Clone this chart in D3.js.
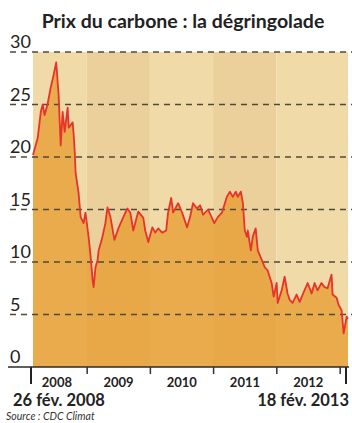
<!DOCTYPE html>
<html><head><meta charset="utf-8">
<script src="https://cdn.jsdelivr.net/npm/d3@7"></script>
<style>html,body{margin:0;padding:0;background:#fff;} svg{display:block;}</style>
</head><body>
<script>
const dates = ["2008-02-26","2008-03-24","2008-04-11","2008-04-22","2008-05-03","2008-05-21","2008-06-07","2008-06-24","2008-07-09","2008-07-23","2008-08-04","2008-08-15","2008-08-27","2008-09-13","2008-09-19","2008-10-12","2008-10-18","2008-10-24","2008-10-29","2008-11-15","2008-11-27","2008-12-14","2008-12-25","2009-01-12","2009-01-24","2009-02-04","2009-02-10","2009-02-21","2009-03-05","2009-03-11","2009-04-02","2009-04-19","2009-05-01","2009-05-18","2009-06-10","2009-07-03","2009-08-01","2009-08-24","2009-09-10","2009-09-27","2009-10-26","2009-11-24","2009-12-05","2009-12-23","2010-01-15","2010-02-01","2010-02-18","2010-03-13","2010-04-05","2010-04-16","2010-05-04","2010-05-15","2010-06-13","2010-07-06","2010-08-04","2010-08-21","2010-09-07","2010-09-30","2010-10-18","2010-11-04","2010-12-03","2011-01-08","2011-01-29","2011-02-21","2011-03-21","2011-04-08","2011-04-25","2011-05-12","2011-05-24","2011-06-10","2011-06-22","2011-07-03","2011-07-15","2011-07-20","2011-08-07","2011-08-18","2011-09-04","2011-09-16","2011-10-09","2011-10-26","2011-11-12","2011-12-05","2011-12-17","2012-01-03","2012-01-09","2012-02-01","2012-02-18","2012-03-06","2012-03-18","2012-04-04","2012-04-27","2012-05-15","2012-06-01","2012-06-30","2012-07-23","2012-08-09","2012-08-26","2012-09-18","2012-10-06","2012-10-23","2012-11-15","2012-11-21","2012-12-14","2012-12-26","2013-01-12","2013-01-24","2013-02-10","2013-02-18"];
const prices = [20.2,21.8,24.3,25.0,24.0,25.1,26.6,27.8,29.0,25.9,21.1,24.3,22.4,24.7,22.8,23.3,22.1,20.5,18.5,16.6,14.3,13.7,14.7,12.4,10.5,8.3,7.6,9.5,10.2,11.1,12.4,13.7,15.2,14.3,12.1,13.2,14.3,15.1,14.7,13.0,14.8,14.2,13.0,11.9,13.3,12.8,13.2,12.8,13.0,14.7,16.1,14.7,15.6,14.7,13.3,14.3,15.6,15.1,15.4,14.5,15.0,13.7,14.3,14.7,16.2,16.7,16.2,16.7,16.2,16.7,15.6,13.0,12.4,13.0,11.1,12.4,13.2,11.1,10.2,9.5,9.2,8.0,6.7,8.0,6.1,7.3,8.6,7.0,6.4,6.1,6.9,6.2,6.9,8.0,7.0,8.0,7.3,8.0,7.6,7.5,8.8,6.9,6.6,5.9,5.4,3.2,4.8,4.6];
const yTicks = [0,5,10,15,20,25,30];
const yearTicks = ["2009-01-01","2010-01-01","2011-01-01","2012-01-01","2013-01-01"];
const yearLabels = ["2008","2009","2010","2011","2012"];
const yearLabelDates = ["2008-07-10","2009-07-01","2010-07-01","2011-07-01","2012-07-01"];
const bandStarts = ["2008-02-26","2009-01-01","2010-01-01","2011-01-01","2012-01-01"];
const bandEnds = ["2009-01-01","2010-01-01","2011-01-01","2012-01-01","2013-02-18"];
const title = "Prix du carbone : la dégringolade";
const startLabel = "26 fév. 2008";
const endLabel = "18 fév. 2013";
const source = "Source : CDC Climat";

const parse = d3.timeParse("%Y-%m-%d");
const data = dates.map((d,i)=>({date: parse(d), v: prices[i]}));
const W = 352, H = 423;
const x = d3.scaleTime().domain([parse("2008-02-26"), parse("2013-02-18")]).range([33, 348]);
const y = d3.scaleLinear().domain([0,30]).range([367, 52]);

const svg = d3.select("body").append("svg").attr("width", W).attr("height", H);
const font = "Lato, 'Open Sans', sans-serif";

// background bands
svg.selectAll("rect.band").data(bandStarts).enter().append("rect")
  .attr("x", (d)=>x(parse(d)))
  .attr("width", (d,i)=>x(parse(bandEnds[i])) - x(parse(d)))
  .attr("y", y(30)).attr("height", y(0)-y(30))
  .attr("fill", (d,i)=> i%2 ? "#ecd09c" : "#efdaa8");

// area
svg.append("path").datum(data)
  .attr("d", d3.area().x(d=>x(d.date)).y0(y(0)).y1(d=>y(d.v)))
  .attr("fill", "#e6951f").attr("fill-opacity", 0.68);

// dashed grid lines
svg.selectAll("line.grid").data(yTicks.filter(t=>t>0)).enter().append("line")
  .attr("x1", 10).attr("x2", 352)
  .attr("y1", d=>y(d)).attr("y2", d=>y(d))
  .attr("stroke", "#4f4a38").attr("stroke-width", 1.6)
  .attr("stroke-dasharray", "6,5");

// line
svg.append("path").datum(data)
  .attr("d", d3.line().x(d=>x(d.date)).y(d=>y(d.v)))
  .attr("fill", "none").attr("stroke", "#e8322a").attr("stroke-width", 1.8)
  .attr("stroke-linejoin", "round");

// y labels
svg.selectAll("text.ylab").data(yTicks).enter().append("text")
  .attr("x", 10).attr("y", d=>y(d)-4)
  .attr("font-family", font).attr("font-size", 18).attr("fill", "#222")
  .text(d=>d);

// baseline
svg.append("line").attr("x1", 8).attr("x2", 349).attr("y1", y(0)).attr("y2", y(0))
  .attr("stroke", "#2a2a2a").attr("stroke-width", 1.6);

// year ticks via axis
const tickAxis = d3.axisBottom(x).tickValues(yearTicks.map(parse)).tickSize(7).tickFormat("");
const gt = svg.append("g").attr("transform", `translate(0,${y(0)})`).call(tickAxis);
gt.select(".domain").remove();
gt.selectAll(".tick line").attr("stroke", "#333").attr("stroke-width", 1.5);

// long end ticks
svg.selectAll("line.endtick").data([parse("2008-02-26"), parse("2013-02-18")]).enter().append("line")
  .attr("x1", d=>x(d)-2).attr("x2", d=>x(d)-2).attr("y1", y(0)).attr("y2", y(0)+17)
  .attr("stroke", "#222").attr("stroke-width", 2);

// year labels via axis
const labAxis = d3.axisBottom(x).tickValues(yearLabelDates.map(parse)).tickSize(0)
  .tickFormat((d,i)=>yearLabels[i]);
const gl = svg.append("g").attr("transform", `translate(0,${y(0)})`).call(labAxis);
gl.select(".domain").remove();
gl.selectAll(".tick text").attr("font-family", font).attr("font-size", 13).attr("font-weight", "bold")
  .attr("fill", "#222").attr("dy", null).attr("y", 20);

// title
svg.append("text").attr("x", 183).attr("y", 28).attr("text-anchor", "middle")
  .attr("font-family", font).attr("font-weight", "bold").attr("font-size", 19.5).attr("fill", "#222")
  .text(title);

svg.append("text").attr("x", 13).attr("y", 406)
  .attr("font-family", font).attr("font-weight", "bold").attr("font-size", 16.5).attr("fill", "#222")
  .text(startLabel);
svg.append("text").attr("x", 349).attr("y", 406).attr("text-anchor", "end")
  .attr("font-family", font).attr("font-weight", "bold").attr("font-size", 16.5).attr("fill", "#222")
  .text(endLabel);
svg.append("text").attr("x", 6).attr("y", 420)
  .attr("font-family", font).attr("font-style", "italic").attr("font-size", 10.5).attr("fill", "#333")
  .text(source);
</script>
</body></html>
